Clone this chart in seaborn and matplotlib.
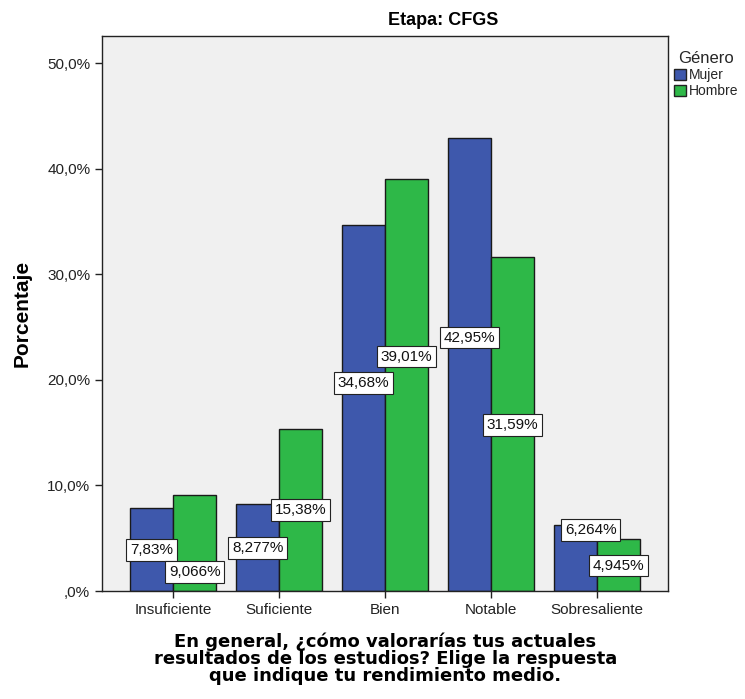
import pandas as pd
import numpy as np
import matplotlib
matplotlib.use("Agg")
import matplotlib.pyplot as plt
import seaborn as sns
from matplotlib.patches import Patch

categorias = ["Insuficiente", "Suficiente", "Bien", "Notable", "Sobresaliente"]
generos = ["Mujer", "Hombre"]
mujer = [7.83, 8.277, 34.68, 42.95, 6.264]
hombre = [9.066, 15.38, 39.01, 31.59, 4.945]
etiq_mujer = ["7,83%", "8,277%", "34,68%", "42,95%", "6,264%"]
etiq_hombre = ["9,066%", "15,38%", "39,01%", "31,59%", "4,945%"]
# altura de las etiquetas (en % del eje)
alt_mujer = [3.9, 4.1, 19.7, 24.0, 5.8]
alt_hombre = [1.8, 7.7, 22.2, 15.7, 2.4]

colores = ["#3E58AC", "#2EB848"]

df = pd.DataFrame({
    "Categoria": categorias * 2,
    "Genero": ["Mujer"] * 5 + ["Hombre"] * 5,
    "Porcentaje": mujer + hombre,
})

sns.set_style("white")
plt.rcParams["font.family"] = ["Liberation Sans", "DejaVu Sans"]

fig = plt.figure(figsize=(7.45, 6.99), dpi=100)
ax = fig.add_axes([0.137, 0.1545, 0.76, 0.7945])
ax.set_facecolor("#F0F0F0")

sns.barplot(data=df, x="Categoria", y="Porcentaje", hue="Genero", hue_order=generos,
            order=categorias, palette=colores, width=0.81, gap=0,
            edgecolor="#1a1a1a", linewidth=1.0, saturation=1, ax=ax, legend=False)

ax.set_xlim(-0.67, 4.67)
ax.set_ylim(0, 52.6)
ax.set_yticks([0, 10, 20, 30, 40, 50])
ax.set_yticklabels([",0%", "10,0%", "20,0%", "30,0%", "40,0%", "50,0%"])
ax.tick_params(axis="both", labelsize=11, length=5, width=1, direction="out",
               left=True, bottom=True, color="#222222", labelcolor="#222222")
for s in ax.spines.values():
    s.set_color("#222222")
    s.set_linewidth(1.0)

# etiquetas de valor
etiquetas = [etiq_mujer, etiq_hombre]
alturas = [alt_mujer, alt_hombre]
for i, cont in enumerate(ax.containers):
    for j, barra in enumerate(cont):
        x = barra.get_x() + barra.get_width() / 2
        dx = 0.14 if (i == 0 and j == 4) else 0
        ax.text(x + dx, alturas[i][j], etiquetas[i][j], ha="center", va="center",
                fontsize=11, color="#111111", zorder=5,
                bbox=dict(boxstyle="square,pad=0.25", fc="white", ec="#222222", lw=0.8))

ax.set_ylabel("Porcentaje", fontsize=15, fontweight="bold", color="black")
ax.yaxis.set_label_coords(-0.125, 0.5)
ax.set_xlabel("En general, ¿cómo valorarías tus actuales\nresultados de los estudios? Elige la respuesta\nque indique tu rendimiento medio.",
              fontsize=13, fontweight="bold", linespacing=0.93, labelpad=11,
              family="DejaVu Sans", color="black")

fig.text(0.595, 0.971, "Etapa: CFGS", ha="center", va="center",
         fontsize=13, fontweight="bold", color="black")

# leyenda
handles = [Patch(facecolor=c, edgecolor="#222222", label=g) for c, g in zip(colores, generos)]
leg = fig.legend(handles=handles, title="Género", loc="upper left",
                 bbox_to_anchor=(0.897, 0.935), frameon=False,
                 prop={"size": 10},
                 handlelength=0.9, handleheight=0.9, handletextpad=0.2,
                 labelspacing=0.15, borderaxespad=0)
leg.get_title().set_fontsize(12)

fig.savefig("out.png", dpi=100, facecolor="white")
